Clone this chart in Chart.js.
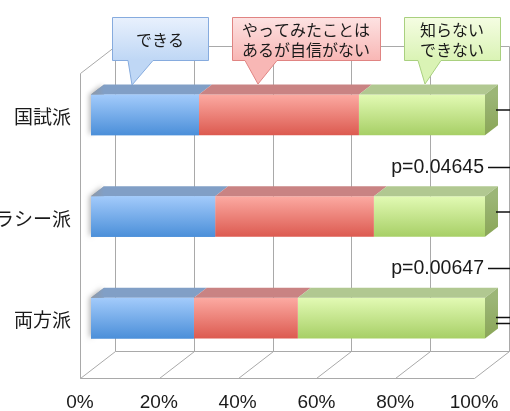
<!DOCTYPE html>
<html>
<head>
<meta charset="utf-8">
<script src="https://cdn.jsdelivr.net/npm/chart.js@4"></script>
<style>
  html, body { margin: 0; padding: 0; background: #fff; }
  #wrap { width: 510px; height: 411px; position: relative; }
</style>
</head>
<body>
<div id="wrap"><canvas id="chart"></canvas></div>
<script>
// data
const categories = ['国試派', 'リテラシー派', '両方派'];
const canDo = [27.4, 31.5, 26.1];
const triedNotSure = [40.6, 40.3, 26.4];
const dontKnow = [32.0, 28.2, 47.5];
const xTicks = [0, 20, 40, 60, 80, 100];
const seriesNames = [['できる'], ['やってみたことは', 'あるが自信がない'], ['知らない', 'できない']];
const pValues = ['p=0.04645', 'p=0.00647'];

// 3d look
const DEPTH = { dx: 13, dy: -10 };   // bar depth
const FRONT = { dx: -11, dy: 9 };    // floor front edge vs bar face
const BACK = { dx: 24, dy: -18 };    // back wall vs bar face
const GRID = '#a9a9a9';
const JP = '"Noto Sans CJK JP", sans-serif';
const LATIN = '"Liberation Sans", Arial, sans-serif';

const palette = [
    { top: '#a3cbfb', bottom: '#4b8fd9', lid: '#819fc6', side: '#5a7fb0' },
    { top: '#fcaaa2', bottom: '#dc5a50', lid: '#c98383', side: '#a85858' },
    { top: '#e2fab4', bottom: '#a7cf66', lid: '#b1c891', side: '#8aa657' }
];

const callouts = [
    { x: 112, y: 17, w: 96, h: 43, base: [128, 153], tip: [132, 85], fillA: '#e9f1fd', fillB: '#bfd7f5', line: '#86abde' },
    { x: 232, y: 17, w: 148, h: 43, base: [245, 277], tip: [258, 84], fillA: '#fde3e3', fillB: '#f8b7b5', line: '#e08482' },
    { x: 404, y: 17, w: 96, h: 43, base: [418, 441], tip: [425, 84], fillA: '#f5fde3', fillB: '#daf3b5', line: '#a9d07f' }
];

function barThickness(chart) {
    const y = chart.scales.y;
    return (y.getPixelForValue(1) - y.getPixelForValue(0)) * 0.4;
}

function frontFill(p) {
    return function(context) {
        const chart = context.chart;
        if (!chart.chartArea || context.dataIndex === undefined) return p.bottom;
        const c = chart.scales.y.getPixelForValue(context.dataIndex);
        const h = barThickness(chart);
        const g = chart.ctx.createLinearGradient(0, c - h / 2, 0, c + h / 2);
        g.addColorStop(0, p.top);
        g.addColorStop(1, p.bottom);
        return g;
    };
}

function poly(ctx, pts) {
    ctx.beginPath();
    ctx.moveTo(pts[0][0], pts[0][1]);
    for (let i = 1; i < pts.length; i++) ctx.lineTo(pts[i][0], pts[i][1]);
    ctx.closePath();
}

function line(ctx, x1, y1, x2, y2) {
    ctx.beginPath();
    ctx.moveTo(x1, y1);
    ctx.lineTo(x2, y2);
    ctx.stroke();
}

const walls = {
    id: 'walls',
    beforeDatasetsDraw(chart) {
        const ctx = chart.ctx;
        const a = chart.chartArea;
        const x = chart.scales.x;
        ctx.save();
        ctx.strokeStyle = GRID;
        ctx.lineWidth = 1;
        ctx.translate(0.5, 0.5);
        const fb = Math.round(a.bottom + FRONT.dy);
        const bb = Math.round(a.bottom + BACK.dy);
        const bt = Math.round(a.top + BACK.dy);
        xTicks.forEach(v => {
            const px = x.getPixelForValue(v);
            const bx = Math.round(px + BACK.dx);
            line(ctx, bx, bt, bx, bb);
            line(ctx, Math.round(px + FRONT.dx), fb, bx, bb);
        });
        const l = x.getPixelForValue(0), r = x.getPixelForValue(100);
        // back wall top and bottom
        line(ctx, Math.round(l + BACK.dx), bt, Math.round(r + BACK.dx), bt);
        line(ctx, Math.round(l + BACK.dx), bb, Math.round(r + BACK.dx), bb);
        // floor front
        line(ctx, Math.round(l + FRONT.dx), fb, Math.round(r + FRONT.dx), fb);
        // left wall
        const ft = Math.round(a.top + FRONT.dy);
        line(ctx, Math.round(l + FRONT.dx), ft, Math.round(l + FRONT.dx), fb);
        line(ctx, Math.round(l + FRONT.dx), ft, Math.round(l + BACK.dx), bt);
        ctx.restore();
    }
};

const depthFaces = {
    id: 'depthFaces',
    afterDatasetsDraw(chart) {
        const ctx = chart.ctx;
        const metas = chart.data.datasets.map((d, i) => chart.getDatasetMeta(i));
        ctx.save();
        categories.forEach((c, i) => {
            const first = metas[0].data[i];
            const top = first.y - first.height / 2;
            const bottom = first.y + first.height / 2;
            const left = Math.min(first.x, first.base);
            // soft shadow at the left end
            ctx.save();
            ctx.shadowColor = 'rgba(0,0,0,0.45)';
            ctx.shadowBlur = 5;
            ctx.shadowOffsetX = -2;
            ctx.fillStyle = 'rgba(120,120,120,0.6)';
            poly(ctx, [[left, top], [left + DEPTH.dx, top + DEPTH.dy], [left + DEPTH.dx, bottom + DEPTH.dy], [left, bottom]]);
            ctx.fill();
            ctx.restore();
            metas.forEach((m, k) => {
                const el = m.data[i];
                const x0 = Math.min(el.x, el.base), x1 = Math.max(el.x, el.base);
                ctx.fillStyle = palette[k].lid;
                poly(ctx, [[x0, top], [x1, top], [x1 + DEPTH.dx, top + DEPTH.dy], [x0 + DEPTH.dx, top + DEPTH.dy]]);
                ctx.fill();
            });
            // redraw the first bar face over the shadow
            const f = metas[0].data[i];
            const g0 = ctx.createLinearGradient(0, top, 0, bottom);
            g0.addColorStop(0, palette[0].top);
            g0.addColorStop(1, palette[0].bottom);
            ctx.fillStyle = g0;
            ctx.fillRect(left, top, Math.abs(f.x - f.base), bottom - top);
            // left part of the lid looks greyed
            const gl = ctx.createLinearGradient(left, 0, left + DEPTH.dx, 0);
            gl.addColorStop(0, 'rgba(150,150,150,0.7)');
            gl.addColorStop(1, 'rgba(150,150,150,0)');
            ctx.fillStyle = gl;
            poly(ctx, [[left, top], [left + DEPTH.dx, top + DEPTH.dy], [left + DEPTH.dx, top]]);
            ctx.fill();
            // right end face
            const last = metas[metas.length - 1].data[i];
            const xr = Math.max(last.x, last.base);
            const gs = ctx.createLinearGradient(0, top, 0, bottom);
            gs.addColorStop(0, '#9cb677');
            gs.addColorStop(1, palette[2].side);
            ctx.fillStyle = gs;
            poly(ctx, [[xr, top], [xr + DEPTH.dx, top + DEPTH.dy], [xr + DEPTH.dx, bottom + DEPTH.dy], [xr, bottom]]);
            ctx.fill();
        });
        ctx.restore();
    }
};

const annotations = {
    id: 'annotations',
    afterDraw(chart) {
        const ctx = chart.ctx;
        const a = chart.chartArea;
        const x = chart.scales.x, y = chart.scales.y;
        ctx.save();
        // category labels
        ctx.fillStyle = '#1a1a1a';
        ctx.font = '19px ' + JP;
        ctx.textAlign = 'right';
        ctx.textBaseline = 'middle';
        categories.forEach((c, i) => ctx.fillText(c, 71, y.getPixelForValue(i) + 2));
        // x tick labels, front floor edge
        ctx.font = '19px ' + LATIN;
        ctx.textAlign = 'center';
        ctx.textBaseline = 'alphabetic';
        xTicks.forEach(v => ctx.fillText(v + '%', x.getPixelForValue(v) + FRONT.dx, a.bottom + 39));
        // significance marks on the right
        const xr = x.getPixelForValue(100) + DEPTH.dx;
        ctx.strokeStyle = '#111';
        ctx.lineWidth = 1.5;
        [0, 1].forEach(i => {
            const cy = Math.round(y.getPixelForValue(i) + DEPTH.dy / 2);
            line(ctx, xr - 2, cy, 512, cy);
        });
        const c3 = y.getPixelForValue(2);
        line(ctx, xr - 2, Math.round(c3) - 0.5, 512, Math.round(c3) - 0.5);
        line(ctx, xr - 2, Math.round(c3) + 5.5, 512, Math.round(c3) + 5.5);
        ctx.font = '19.5px ' + LATIN;
        ctx.textAlign = 'right';
        ctx.textBaseline = 'middle';
        pValues.forEach((p, i) => {
            const py = Math.round((y.getPixelForValue(i) + y.getPixelForValue(i + 1)) / 2 + 1) + 0.5;
            ctx.fillText(p, 484, py);
            line(ctx, 488, py, 512, py);
        });
        // callouts
        callouts.forEach((c, i) => {
            const g = ctx.createLinearGradient(0, c.y, 0, c.y + c.h);
            g.addColorStop(0, c.fillA);
            g.addColorStop(1, c.fillB);
            ctx.fillStyle = g;
            ctx.strokeStyle = c.line;
            ctx.lineWidth = 1;
            const L = c.x + 0.5, T = c.y + 0.5, R = c.x + c.w + 0.5, B = c.y + c.h + 0.5;
            poly(ctx, [[L, T], [R, T], [R, B], [c.base[1], B], c.tip, [c.base[0], B], [L, B]]);
            ctx.fill();
            ctx.stroke();
            ctx.fillStyle = '#1a1a1a';
            ctx.font = '16px ' + JP;
            ctx.textAlign = 'center';
            ctx.textBaseline = 'middle';
            const lines = seriesNames[i];
            const cx = c.x + c.w / 2;
            if (lines.length === 1) {
                ctx.fillText(lines[0], cx, c.y + c.h / 2 + 1);
            } else {
                ctx.fillText(lines[0], cx, c.y + 13);
                ctx.fillText(lines[1], cx, c.y + 33);
            }
        });
        ctx.restore();
    }
};

const ctx = document.getElementById('chart');
new Chart(ctx, {
    type: 'bar',
    data: {
        labels: categories,
        datasets: [
            { label: seriesNames[0].join(''), data: canDo, backgroundColor: frontFill(palette[0]) },
            { label: seriesNames[1].join(''), data: triedNotSure, backgroundColor: frontFill(palette[1]) },
            { label: seriesNames[2].join(''), data: dontKnow, backgroundColor: frontFill(palette[2]) }
        ]
    },
    options: {
        indexAxis: 'y',
        responsive: true,
        maintainAspectRatio: false,
        animation: false,
        layout: { padding: { left: 91, right: 25, top: 64, bottom: 42 } },
        datasets: { bar: { barPercentage: 0.4, categoryPercentage: 1, borderWidth: 0 } },
        scales: {
            x: { stacked: true, min: 0, max: 100, display: false },
            y: { stacked: true, display: false }
        },
        plugins: { legend: { display: false }, tooltip: { enabled: false } }
    },
    plugins: [walls, depthFaces, annotations]
});
</script>
</body>
</html>
